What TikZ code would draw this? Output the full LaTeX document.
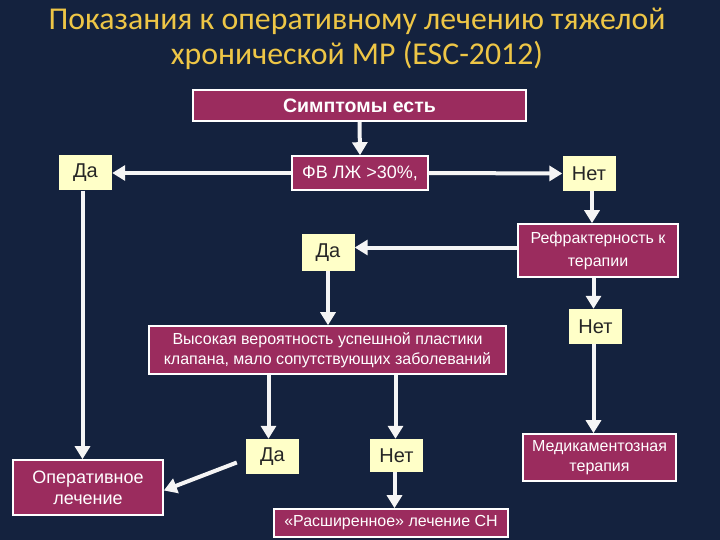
\documentclass[tikz,border=0pt]{standalone}
\usepackage{fontspec}
\setmainfont{Liberation Sans}
\newfontfamily\titlefont{Carlito}
\usetikzlibrary{arrows.meta}
\definecolor{bg}{RGB}{20,34,62}
\definecolor{wine}{RGB}{155,44,94}
\definecolor{pale}{RGB}{255,255,200}
\definecolor{gold}{RGB}{238,198,70}
\definecolor{arr}{RGB}{245,245,245}
\tikzset{
  redbox/.style={draw=white, line width=1.6pt, fill=wine, text=white, inner sep=0pt, align=center, font=\fontsize{16}{20}\selectfont},
  yesno/.style={draw=none, fill=pale, text=black!85, inner sep=0pt, minimum width=53pt, minimum height=35pt, font=\fontsize{20}{22}\selectfont},
  conn/.style={draw=arr, line width=4pt, -{Triangle[width=15pt,length=13pt]}},
}
\begin{document}
\begin{tikzpicture}[x=1pt,y=-1pt]
\fill[bg] (0,0) rectangle (720,540);
\useasboundingbox (0,0) rectangle (720,540);
% title
\node[text=gold, font=\titlefont\fontsize{31.8}{36}\selectfont] (t1) at (357,21) {Показания к оперативному лечению тяжелой};
\node[text=gold, font=\titlefont\fontsize{31.8}{36}\selectfont] (t2) at (357,55) {хронической МР (ESC-2012)};
% boxes
\node[redbox, minimum width=333pt, minimum height=31pt, font=\bfseries\fontsize{19.5}{22}\selectfont] (sym) at (359.5,105.5) {Симптомы есть};
\node[redbox, minimum width=136pt, minimum height=34pt, font=\fontsize{18}{20}\selectfont] (fv) at (360,173) {ФВ ЛЖ >30\%,};
\node[yesno] (da1) at (85.5,173) {Да};
\node[yesno, minimum height=35pt] (net1) at (589,173.5) {Нет};
\node[redbox, minimum width=160pt, minimum height=53pt, font=\fontsize{16}{23}\selectfont] (ref) at (598,250.5) {Рефрактерность к\\терапии};
\node[yesno, minimum height=37pt] (da2) at (328,252.5) {Да};
\node[redbox, minimum width=357pt, minimum height=48pt, font=\fontsize{16}{20}\selectfont] (hv) at (327.5,350) {Высокая вероятность успешной пластики\\клапана, мало сопутствующих заболеваний};
\node[yesno] (net2) at (595.5,326.5) {Нет};
\node[redbox, minimum width=150pt, minimum height=55pt, font=\fontsize{18}{21}\selectfont] (op) at (88,487.5) {Оперативное\\лечение};
\node[yesno] (da3) at (272.5,456.5) {Да};
\node[yesno, minimum height=33pt] (net3) at (396.5,455.5) {Нет};
\node[redbox, minimum width=234pt, minimum height=28pt, font=\fontsize{16}{18}\selectfont] (ext) at (391,523) {«Расширенное» лечение СН};
\node[redbox, minimum width=153pt, minimum height=47pt, font=\fontsize{16}{19.5}\selectfont] (med) at (599.5,457.5) {Медикаментозная\\терапия};
% connectors
\draw[conn] (sym.south) -- (fv.north);
\draw[conn] (fv.west) -- (da1.east);
\draw[conn] (fv.east) -- (net1.west);
\draw[conn] ([xshift=3pt]net1.south) -- ([xshift=3pt]net1.south |- ref.north);
\draw[conn] ([yshift=3pt]ref.west) -- ([yshift=3pt]ref.west -| da2.east);
\draw[conn] (da2.south) -- (da2.south |- hv.north);
\draw[conn] ([xshift=-2pt]net2.north |- ref.south) -- ([xshift=-2pt]net2.north);
\draw[conn] ([xshift=-2pt]net2.south) -- ([xshift=-2pt]net2.south |- med.north);
\draw[conn] ([xshift=-3pt]da1.south) -- ([xshift=-3pt]da1.south |- op.north);
\draw[conn] ([xshift=-4pt]da3.north |- hv.south) -- ([xshift=-4pt]da3.north);
\draw[conn] ([xshift=-1pt]net3.north |- hv.south) -- ([xshift=-1pt]net3.north);
\draw[conn] ([xshift=-2pt]net3.south) -- ([xshift=-2pt]net3.south |- ext.north);
\draw[conn] ([xshift=-9pt,yshift=-6pt]da3.west) -- ([yshift=-3pt]op.east);
\end{tikzpicture}
\end{document}
